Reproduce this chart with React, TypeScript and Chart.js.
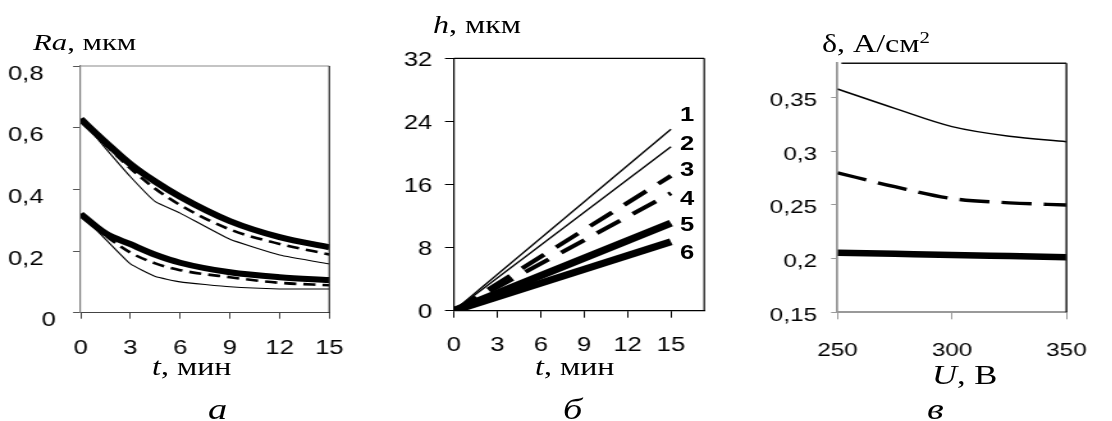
import React, { useEffect, useRef } from "react";
import { Chart, registerables } from "chart.js";

Chart.register(...registerables);

// The original figure is stretched horizontally; reproduce by scaling a virtual page.
const S = 1.28;
const W = 1112;
const H = 421;
const SANS = "Arial, 'Liberation Sans', sans-serif";
const SERIF = "'Times New Roman', 'Liberation Serif', serif";

// ---------- panel а : Ra(t)
const tA = [0, 1.5, 3, 4.5, 6, 9, 12, 15];
const raTopThick = [0.628, 0.553, 0.482, 0.425, 0.376, 0.297, 0.245, 0.212];
const raTopDashed = [0.628, 0.545, 0.468, 0.402, 0.349, 0.27, 0.223, 0.189];
const raTopThin = [0.628, 0.533, 0.441, 0.36, 0.323, 0.238, 0.187, 0.158];
const raLowThick = [0.32, 0.257, 0.222, 0.188, 0.162, 0.131, 0.115, 0.106];
const raLowDashed = [0.32, 0.25, 0.195, 0.16, 0.138, 0.115, 0.097, 0.089];
const raLowThin = [0.32, 0.238, 0.158, 0.117, 0.1, 0.084, 0.077, 0.077];
const xTicksA = [0, 3, 6, 9, 12, 15];
const yTicksA = [0, 0.2, 0.4, 0.6, 0.8];

// ---------- panel б : h(t)
const tB = [0, 15];
const h1 = [0, 23.0];
const h2 = [0, 20.8];
const h3 = [0, 17.1];
const h4 = [0, 14.9];
const h5 = [0, 11.1];
const h6 = [0, 8.75];
const curveLabels = ["1", "2", "3", "4", "5", "6"];
const xTicksB = [0, 3, 6, 9, 12, 15];
const yTicksB = [0, 8, 16, 24, 32];

// ---------- panel в : δ(U)
const U = [250, 275, 300, 325, 350];
const dThin = [0.358, 0.34, 0.323, 0.314, 0.309];
const dDashed = [0.28, 0.267, 0.256, 0.252, 0.25];
const dThick = [0.2055, 0.2045, 0.2035, 0.2024, 0.2013];
const xTicksC = [250, 300, 350];
const yTicksC = [0.15, 0.2, 0.25, 0.3, 0.35];

const xy = (xs: number[], ys: number[]) => xs.map((x, i) => ({ x, y: ys[i] }));
const fmt = (v: number) => String(Number(Number(v).toFixed(3))).replace(".", ",");

const framePlugin = {
  id: "frame",
  afterDraw(chart: any, _a: any, opts: any) {
    const { ctx, chartArea } = chart;
    const { left, top, right, bottom } = chartArea;
    ctx.save();
    if (opts.top) {
      ctx.strokeStyle = opts.top.color;
      ctx.lineWidth = opts.top.width;
      ctx.beginPath();
      ctx.moveTo(left + (opts.top.start || 0), top);
      ctx.lineTo(right, top);
      ctx.stroke();
    }
    if (opts.right) {
      ctx.strokeStyle = opts.right.color;
      ctx.lineWidth = opts.right.width;
      ctx.beginPath();
      ctx.moveTo(right, top);
      ctx.lineTo(right, bottom);
      ctx.stroke();
    }
    // a separately placed y tick label (the original sets "0" closer to the axis)
    if (opts.zero) {
      const ys = chart.scales.y;
      const py = ys.getPixelForValue(opts.zero.value) + (opts.zero.dy || 0);
      ctx.fillStyle = "#000";
      ctx.font = `${opts.zero.size}px ${SANS}`;
      ctx.textAlign = "right";
      ctx.textBaseline = "middle";
      ctx.fillText(fmt(opts.zero.value), left - opts.zero.gap, py);
    }
    ctx.restore();
  },
};

type AxisSpec = {
  min: number;
  max: number;
  ticks: number[];
  tl: number;
  pad: number;
  color: string;
  width: number;
  tickColor: string;
  labelOffset?: number;
  hideZero?: boolean;
};

type Panel = {
  left: number;
  width: number;
  area: { l: number; t: number; r: number; b: number };
  datasets: any[];
  x: AxisSpec;
  y: AxisSpec;
  frame: any;
  fontSize: number;
};

function axis(a: AxisSpec, fontSize: number, fit: (s: any) => void) {
  return {
    type: "linear" as const,
    min: a.min,
    max: a.max,
    afterFit: fit,
    afterBuildTicks: (s: any) => {
      s.ticks = a.ticks.map((v) => ({ value: v }));
    },
    ticks: {
      autoSkip: false,
      maxRotation: 0,
      minRotation: 0,
      padding: a.pad,
      labelOffset: a.labelOffset || 0,
      color: "#000",
      font: { family: SANS, size: fontSize },
      callback: (v: any) => (a.hideZero && Number(v) === 0 ? "" : fmt(v)),
    },
    grid: {
      display: true,
      drawOnChartArea: false,
      drawTicks: true,
      tickLength: a.tl,
      color: a.tickColor,
      lineWidth: 1,
    },
    border: { display: true, color: a.color, width: a.width },
  };
}

function build(canvas: HTMLCanvasElement, p: Panel) {
  const cw = Math.round(p.width / S);
  const yW = (p.area.l - p.left) / S;
  const padR = cw - (p.area.r - p.left) / S;
  const xH = H - p.area.b;
  return new Chart(canvas, {
    type: "line",
    data: { datasets: p.datasets },
    options: {
      responsive: false,
      animation: false,
      events: [],
      layout: { padding: { left: 0, top: p.area.t, right: padR, bottom: 0 } },
      plugins: {
        legend: { display: false },
        tooltip: { enabled: false },
        frame: p.frame,
      } as any,
      elements: { point: { radius: 0 }, line: { borderColor: "#000", fill: false } },
      scales: {
        x: axis(p.x, p.fontSize, (s: any) => {
          s.height = xH;
        }),
        y: axis(p.y, p.fontSize, (s: any) => {
          s.width = yW;
        }),
      } as any,
    },
    plugins: [framePlugin as any],
  });
}

const line = (data: any, width: number, dash: number[] = [], tension = 0.25, mono = false) => ({
  data,
  borderColor: "#000",
  borderWidth: width,
  borderDash: dash,
  pointRadius: 0,
  fill: false,
  tension,
  cubicInterpolationMode: mono ? "monotone" : "default",
  borderCapStyle: "butt",
  borderJoinStyle: "round",
});

const panels: Panel[] = [
  {
    left: 0,
    width: 370,
    area: { l: 80.7, t: 66, r: 329.3, b: 312.7 },
    fontSize: 20,
    datasets: [
      line(xy(tA, raTopThick), 6, [], 0, true),
      line(xy(tA, raLowThick), 6, [], 0, true),
      line(xy(tA, raTopDashed), 2.6, [9.5, 5.5], 0, true),
      line(xy(tA, raLowDashed), 2.6, [9.5, 5.5], 0, true),
      line(xy(tA, raTopThin), 1.1, [], 0.12),
      line(xy(tA, raLowThin), 1.1, [], 0.12),
    ],
    x: { min: 0, max: 15, ticks: xTicksA, tl: 6, pad: 18, color: "#444", width: 1, tickColor: "#444" },
    y: { min: 0, max: 0.8, ticks: yTicksA, tl: 6, pad: 23, color: "#7a7a7a", width: 1.2, tickColor: "#555", labelOffset: 8, hideZero: true },
    frame: {
      top: { color: "#8a8a8a", width: 1.2 },
      right: { color: "#222", width: 1.2 },
      zero: { value: 0, gap: 19.3, dy: 8, size: 20 },
    },
  },
  {
    left: 370,
    width: 370,
    area: { l: 454, t: 58.3, r: 704.3, b: 310.7 },
    fontSize: 20,
    datasets: [
      line(xy(tB, h5), 7, [], 0),
      line(xy(tB, h6), 7, [], 0),
      line(xy(tB, h3), 4, [22, 12], 0),
      line(xy(tB, h4), 4, [22, 12], 0),
      line(xy(tB, h1), 1.4, [], 0),
      line(xy(tB, h2), 1.4, [], 0),
    ],
    x: { min: 0, max: 17.3, ticks: xTicksB, tl: 7, pad: 16, color: "#000", width: 1.2, tickColor: "#000" },
    y: { min: 0, max: 32, ticks: yTicksB, tl: 7, pad: 10, color: "#000", width: 1.2, tickColor: "#000", labelOffset: 2 },
    frame: { top: { color: "#000", width: 1.2 }, right: { color: "#000", width: 1.2 } },
  },
  {
    left: 740,
    width: 372,
    area: { l: 837.7, t: 63.3, r: 1086.7, b: 312.3 },
    fontSize: 19,
    datasets: [
      line(xy(U, dThick), 6.5, [], 0, true),
      line(xy(U, dDashed), 3.4, [23.5, 9.5], 0, true),
      line(xy(U, dThin), 1.5, [], 0, true),
    ],
    x: { min: 250, max: 350, ticks: xTicksC, tl: 7, pad: 20, color: "#999", width: 2, tickColor: "#999" },
    y: { min: 0.15, max: 0.382, ticks: yTicksC, tl: 5, pad: 11, color: "#999", width: 1.8, tickColor: "#999", labelOffset: 3 },
    frame: { top: { color: "#111", width: 1.5, start: 3 }, right: { color: "#222", width: 1.5 } },
  },
];

function ChartCanvas({ p }: { p: Panel }) {
  const ref = useRef<HTMLCanvasElement | null>(null);
  useEffect(() => {
    if (!ref.current) return;
    const c = build(ref.current, p);
    return () => c.destroy();
  }, [p]);
  const cw = Math.round(p.width / S);
  return (
    <canvas
      ref={ref}
      width={cw}
      height={H}
      style={{ position: "absolute", left: p.left / S, top: 0, width: cw, height: H, display: "block" }}
    />
  );
}

function Txt({
  x,
  base,
  size,
  children,
}: {
  x: number;
  base: number;
  size: number;
  children: React.ReactNode;
}) {
  return (
    <div
      style={{
        position: "absolute",
        left: x / S,
        top: base - 0.8375 * size,
        fontSize: size,
        lineHeight: `${size}px`,
        fontFamily: SERIF,
        whiteSpace: "nowrap",
        color: "#000",
      }}
    >
      {children}
    </div>
  );
}

function Num({ cx, cy, size, children }: { cx: number; cy: number; size: number; children: React.ReactNode }) {
  return (
    <div
      style={{
        position: "absolute",
        left: cx / S,
        top: cy - 0.4885 * size,
        fontSize: size,
        lineHeight: `${size}px`,
        fontFamily: SANS,
        fontWeight: "bold",
        transform: "translateX(-50%)",
        whiteSpace: "nowrap",
        color: "#000",
      }}
    >
      {children}
    </div>
  );
}

const labelCentersY = [113.3, 142.5, 169, 197.5, 224, 251.7];

export default function App() {
  return (
    <div
      style={{
        position: "fixed",
        left: 0,
        top: 0,
        width: W / S,
        height: H,
        transform: `scaleX(${S})`,
        transformOrigin: "0 0",
        background: "#fff",
        overflow: "hidden",
      }}
    >
      {panels.map((p, i) => (
        <ChartCanvas key={i} p={p} />
      ))}

      <Txt x={33} base={50} size={24}>
        <i>Ra</i>, мкм
      </Txt>
      <Txt x={152} base={375} size={25}>
        <i>t</i>, мин
      </Txt>
      <Txt x={208} base={419} size={30}>
        <i>а</i>
      </Txt>

      <Txt x={433} base={33} size={25}>
        <i>h</i>, мкм
      </Txt>
      <Txt x={535} base={375} size={25}>
        <i>t</i>, мин
      </Txt>
      <Txt x={563} base={419} size={30}>
        <i>б</i>
      </Txt>
      {curveLabels.map((l, i) => (
        <Num key={l} cx={687} cy={labelCentersY[i]} size={20}>
          {l}
        </Num>
      ))}

      <Txt x={822} base={51.5} size={25}>
        δ, А/см
        <sup style={{ fontSize: "0.65em", lineHeight: 0, verticalAlign: "0.55em" }}>2</sup>
      </Txt>
      <Txt x={932} base={385} size={27}>
        <i>U</i>, В
      </Txt>
      <Txt x={927} base={419} size={30}>
        <i>в</i>
      </Txt>
    </div>
  );
}
